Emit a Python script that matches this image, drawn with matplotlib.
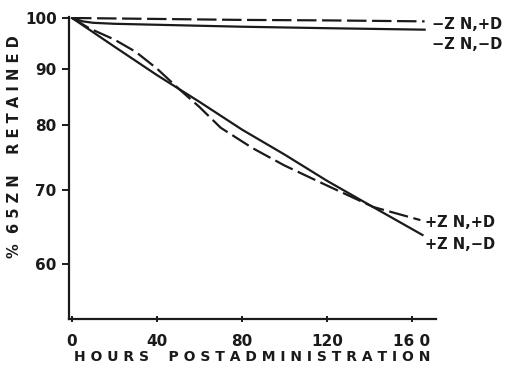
import numpy as np
import matplotlib.pyplot as plt
from matplotlib.ticker import FixedLocator, NullLocator, FixedFormatter

plt.rcParams['font.family'] = 'DejaVu Sans'
plt.rcParams['lines.scale_dashes'] = False

# hours postadministration vs % 65Zn retained
hours_nzn_pd = [0, 40, 80, 120, 166]
ret_nzn_pd = [100, 99.8, 99.6, 99.5, 99.3]

hours_nzn_nd = [0, 5, 10, 20, 40, 80, 120, 166]
ret_nzn_nd = [100, 99.3, 99.0, 98.8, 98.6, 98.2, 97.9, 97.6]

hours_pzn_pd = [0, 8, 20, 30, 40, 50, 60, 70, 85, 100, 120, 142, 164]
ret_pzn_pd = [100, 97.9, 95.6, 93.2, 90.0, 86.4, 83.1, 79.6, 76.3, 73.6, 70.6, 67.5, 65.7]

hours_pzn_nd = [0, 20, 40, 60, 80, 100, 120, 140, 165]
ret_pzn_nd = [100, 94.2, 88.8, 84.0, 79.3, 75.3, 71.3, 67.8, 63.7]

labels = ['\u2212Z N,+D', '\u2212Z N,\u2212D', '+Z N,+D', '+Z N,\u2212D']
yticks = [60, 70, 80, 90, 100]
xticks = [0, 40, 80, 120, 160]

fig = plt.figure(figsize=(5.08, 3.70), dpi=100)
ax = fig.add_axes([0.136, 0.138, 0.722, 0.816])

dash = (0, (14, 4))
series = [
    (hours_nzn_pd, ret_nzn_pd, dash, (5, -2)),
    (hours_nzn_nd, ret_nzn_nd, '-', (5, -11)),
    (hours_pzn_pd, ret_pzn_pd, dash, (3, -2)),
    (hours_pzn_nd, ret_pzn_nd, '-', (2, -7)),
]
for (h, r, ls, off), lab in zip(series, labels):
    ax.plot(h, r, color='#1a1a1a', lw=1.6, linestyle=ls)
    ax.annotate(lab, xy=(h[-1], r[-1]), xytext=off, textcoords='offset points',
                ha='left', va='center', fontsize=10.5, fontweight='bold',
                color='#1a1a1a', annotation_clip=False)

ax.set_yscale('log')
ax.set_xlim(-1.4, 171.3)
ax.set_ylim(53.5, 100.2)
ax.yaxis.set_major_locator(FixedLocator(yticks))
ax.yaxis.set_major_formatter(FixedFormatter([str(v) for v in yticks]))
ax.yaxis.set_minor_locator(NullLocator())
ax.set_xticks(xticks)
ax.set_xticklabels(['0', '40', '80', '120', '16 0'])

for s in ['top', 'right']:
    ax.spines[s].set_visible(False)
for s in ['left', 'bottom']:
    ax.spines[s].set_linewidth(1.6)
    ax.spines[s].set_color('#1a1a1a')

ax.tick_params(axis='y', direction='out', length=5, width=1.4, pad=4,
               labelsize=11, colors='#1a1a1a')
ax.tick_params(axis='x', direction='inout', length=5, width=1.4, pad=8,
               labelsize=11, colors='#1a1a1a')
for t in ax.get_xticklabels() + ax.get_yticklabels():
    t.set_fontweight('bold')

ax.set_xlabel('H O U R S    P O S T A D M I N I S T R A T I O N',
              fontsize=10, fontweight='bold', color='#1a1a1a', labelpad=1)
ax.set_ylabel('%  6 5 Z N    R E T A I N E D', fontsize=10.5, fontweight='bold',
              color='#1a1a1a')
ax.yaxis.set_label_coords(-0.128, 0.57)

fig.savefig('out.png', dpi=100)
